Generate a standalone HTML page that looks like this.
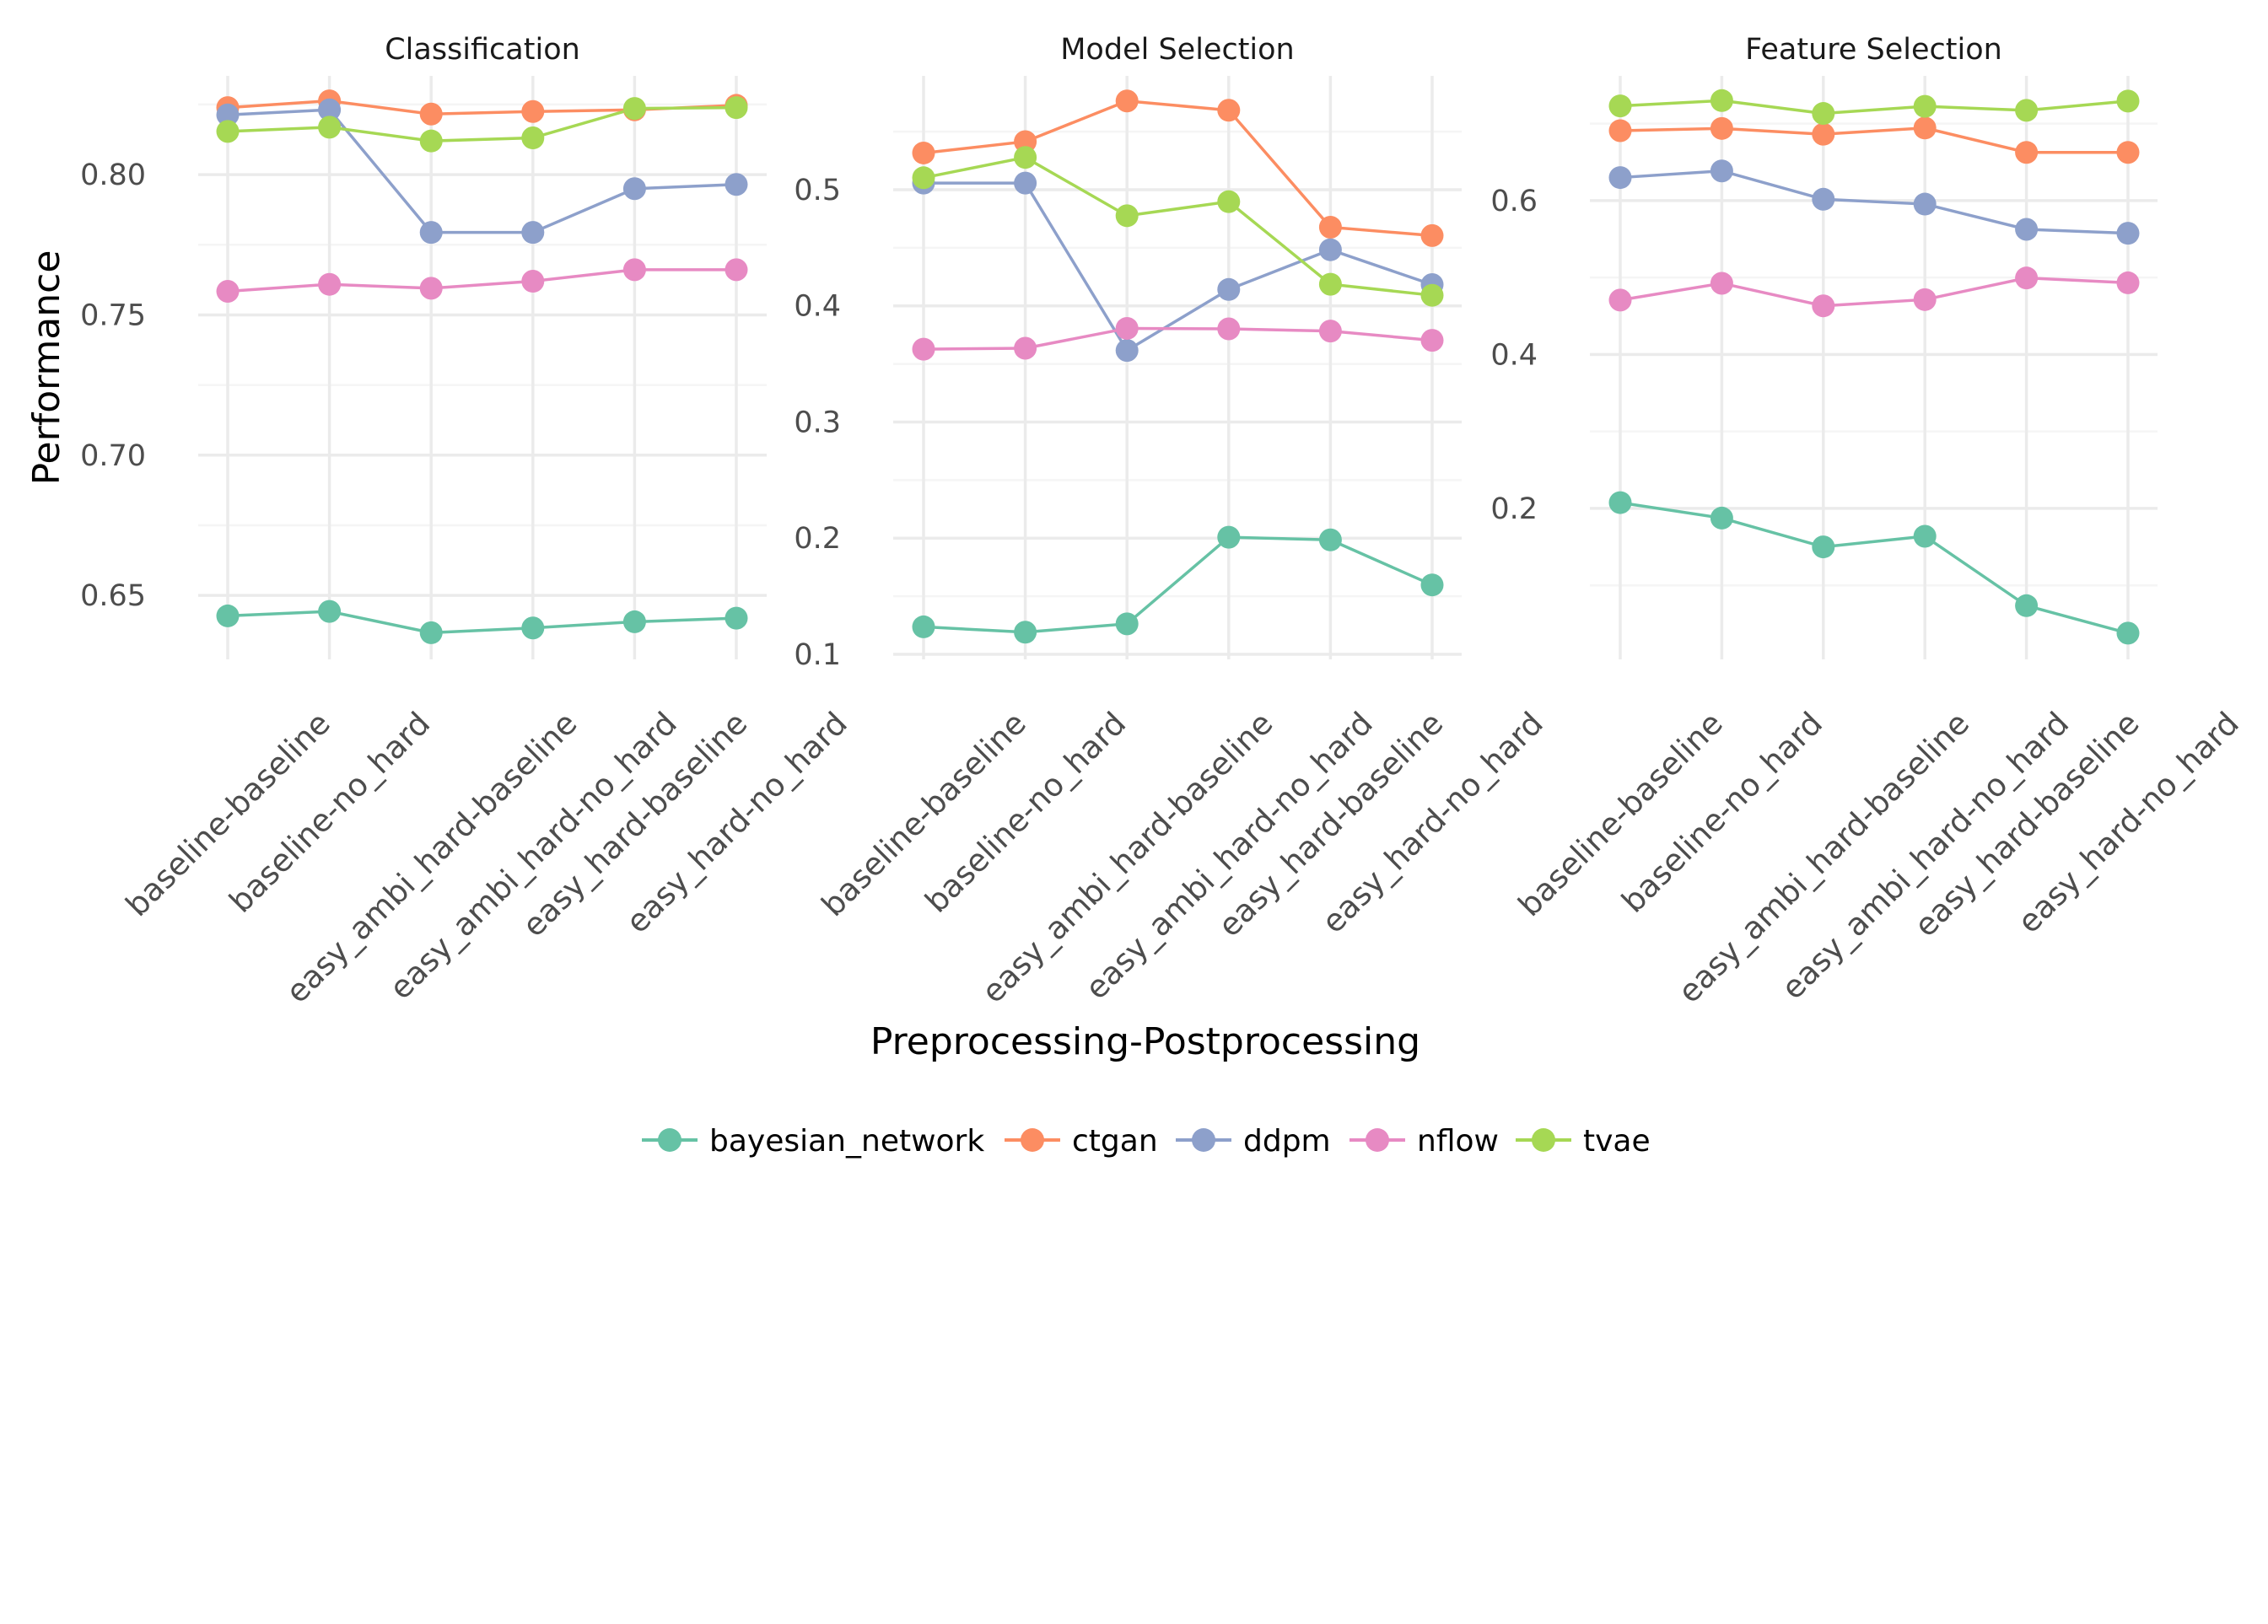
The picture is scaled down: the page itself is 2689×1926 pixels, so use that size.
<!DOCTYPE html>
<html><head><meta charset="utf-8"><style>
html,body{margin:0;padding:0;background:#fff;}
svg{display:block;font-family:"DejaVu Sans","Liberation Sans",sans-serif;}
</style></head><body>
<svg id="chart" width="2689" height="1926" viewBox="0 0 2689 1926" xmlns="http://www.w3.org/2000/svg">
<rect width="2689" height="1926" fill="#fff"/>
<g id="panels"></g>
<text x="1358" y="1250" font-size="44" text-anchor="middle" fill="#000">Preprocessing-Postprocessing</text>
<text transform="translate(70,436) rotate(-90)" font-size="44" text-anchor="middle" fill="#000">Performance</text>
<g id="legend"></g>
</svg>
<script>
const categories = ["baseline-baseline","baseline-no_hard","easy_ambi_hard-baseline","easy_ambi_hard-no_hard","easy_hard-baseline","easy_hard-no_hard"];
const seriesNames = ["bayesian_network","ctgan","ddpm","nflow","tvae"];
const seriesColors = ["#66c2a5","#fc8d62","#8da0cb","#e78ac3","#a6d854"];
const panelTitles = ["Classification","Model Selection","Feature Selection"];
// Classification
const clsBayes = [0.6427,0.6443,0.6367,0.6384,0.6406,0.6419];
const clsCtgan = [0.8239,0.8263,0.8216,0.8225,0.8231,0.8247];
const clsDdpm  = [0.8213,0.8231,0.7794,0.7794,0.7950,0.7965];
const clsNflow = [0.7584,0.7609,0.7595,0.7620,0.7661,0.7661];
const clsTvae  = [0.8154,0.8169,0.8120,0.8131,0.8236,0.8239];
// Model Selection
const msBayes = [0.1236,0.1190,0.1262,0.2008,0.1985,0.1597];
const msCtgan = [0.5316,0.5414,0.5764,0.5684,0.4677,0.4605];
const msDdpm  = [0.5057,0.5057,0.3616,0.4141,0.4483,0.4183];
const msNflow = [0.3627,0.3635,0.3806,0.3802,0.3783,0.3703];
const msTvae  = [0.5103,0.5278,0.4776,0.4897,0.4186,0.4091];
// Feature Selection
const fsBayes = [0.2075,0.1874,0.1500,0.1638,0.0736,0.0379];
const fsCtgan = [0.6908,0.6937,0.6862,0.6943,0.6626,0.6626];
const fsDdpm  = [0.6299,0.6385,0.6017,0.5954,0.5626,0.5575];
const fsNflow = [0.4707,0.4925,0.4632,0.4713,0.4994,0.4931];
const fsTvae  = [0.7230,0.7299,0.7132,0.7224,0.7172,0.7293];
// axes
const clsTicks = [0.65,0.70,0.75,0.80];
const clsTickLabels = ["0.65","0.70","0.75","0.80"];
const msTicks = [0.1,0.2,0.3,0.4,0.5];
const msTickLabels = ["0.1","0.2","0.3","0.4","0.5"];
const fsTicks = [0.2,0.4,0.6];
const fsTickLabels = ["0.2","0.4","0.6"];
const clsDomain = [0.6272,0.8352];
const msDomain = [0.0956,0.598];
const fsDomain = [0.0038,0.762];

const NS="http://www.w3.org/2000/svg";
function mk(tag, attrs, parent){const e=document.createElementNS(NS,tag);for(const k in attrs)e.setAttribute(k,attrs[k]);if(parent)parent.appendChild(e);return e;}

const layouts=[{left:235,right:909,xs:[270,391,511,632,752,873]},{left:1059,right:1733,xs:[1095,1216,1336,1457,1577,1698]},{left:1885,right:2558,xs:[1921,2041,2161,2282,2402,2523]}];
const TOP=90,BOT=782;
const panelData=[[clsBayes,clsCtgan,clsDdpm,clsNflow,clsTvae],[msBayes,msCtgan,msDdpm,msNflow,msTvae],[fsBayes,fsCtgan,fsDdpm,fsNflow,fsTvae]];
const panelTicks=[clsTicks,msTicks,fsTicks];
const panelTickLabels=[clsTickLabels,msTickLabels,fsTickLabels];
const panelDomains=[clsDomain,msDomain,fsDomain];
const root=document.getElementById('panels');

panelTitles.forEach((title,p)=>{
  const L=layouts[p];const dom=panelDomains[p];
  const y=v=>BOT-(v-dom[0])/(dom[1]-dom[0])*(BOT-TOP);
  const x=i=>L.xs[0]+i*(L.xs[5]-L.xs[0])/(categories.length-1);
  const g=mk('g',{},root);
  
  
  const ticks=panelTicks[p];
  const step=ticks[1]-ticks[0];
  for(let v=ticks[0]-step/2; v<=dom[1]; v+=step){
    if(v<dom[0])continue;
    const ml=mk('line',{x1:L.left,x2:L.right,y1:y(v),y2:y(v),stroke:'#f5f5f5','stroke-width':2.5},g);
    
    
  }
  ticks.forEach((v,i)=>{
    const gl=mk('line',{x1:L.left,x2:L.right,y1:y(v),y2:y(v),stroke:'#ebebeb','stroke-width':3.5},g);
    
    
    const t=mk('text',{x:L.left-62,y:y(v)+12,'font-size':35,'text-anchor':'end',fill:'#4d4d4d'},g);
    t.textContent=panelTickLabels[p][i];
    
    
  });
  categories.forEach((c,i)=>{
    const vl=mk('line',{x1:x(i),x2:x(i),y1:TOP,y2:BOT,stroke:'#ebebeb','stroke-width':3.5},g);
    
    
  });
  const st=mk('text',{x:(L.left+L.right)/2,y:70,'font-size':35,'text-anchor':'middle',fill:'#1a1a1a'},g);
  st.textContent=title;
  
  
  panelData[p].forEach((vals,s)=>{
    const pts=vals.map((v,i)=>x(i)+','+y(v)).join(' ');
    const pl=mk('polyline',{points:pts,fill:'none',stroke:seriesColors[s],'stroke-width':3.5},g);
    
    
  });
  panelData[p].forEach((vals,s)=>{
    vals.forEach((v,i)=>{
      const c=mk('circle',{cx:x(i),cy:y(v),r:13.5,fill:seriesColors[s]},g);
      
      
    });
  });
  categories.forEach((c,i)=>{
    const t=mk('text',{'font-size':37,'text-anchor':'middle',fill:'#4d4d4d'},g);
    t.textContent=c;
    
    
    const len=t.getComputedTextLength();
    const h=(len+37)*0.7071;
    const cy=838+h/2;
    t.setAttribute('transform','translate('+x(i)+','+cy+') rotate(-45) translate(0,13)');
  });
});

const leg=document.getElementById('legend');
const legX=[794,1224,1427,1633,1830];
seriesNames.forEach((n,s)=>{
  const g=mk('g',{},leg);
  
  
  const ln=mk('line',{x1:legX[s]-33,x2:legX[s]+33,y1:1352,y2:1352,stroke:seriesColors[s],'stroke-width':4},g);
  
  
  const c=mk('circle',{cx:legX[s],cy:1352,r:14,fill:seriesColors[s]},g);
  
  
  const t=mk('text',{x:legX[s]+47,y:1365,'font-size':36,fill:'#000'},g);
  t.textContent=n;
  
  
});
</script>
</body></html>
